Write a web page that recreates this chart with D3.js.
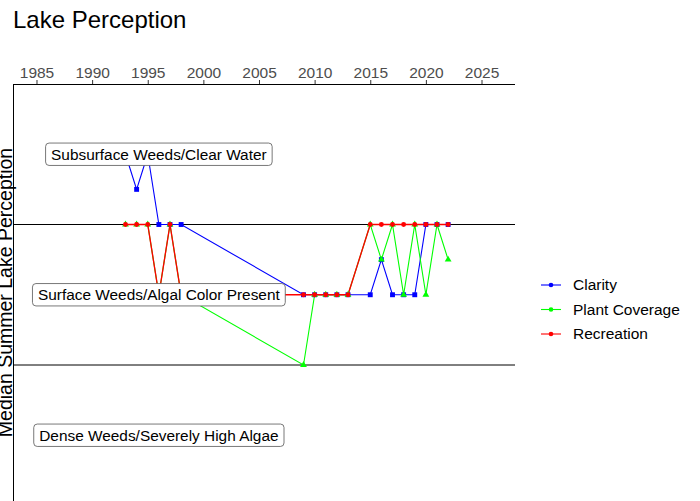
<!DOCTYPE html>
<html>
<head>
<meta charset="utf-8">
<script src="https://cdn.jsdelivr.net/npm/d3@7"></script>
<style>
  html, body { margin: 0; padding: 0; background: #fff; }
  svg { display: block; font-family: "Liberation Sans", Arial, sans-serif; }
</style>
</head>
<body>
<svg id="chart" width="700" height="501"></svg>
<script>
// Survey years (shared by every series)
const years = [1993, 1994, 1995, 1996, 1997, 1998,
               2009, 2010, 2011, 2012, 2013,
               2015, 2016, 2017, 2018, 2019, 2020, 2021, 2022];

// Median summer perception ratings (1 = best, 5 = worst)
const clarity       = [1, 1.5, 1, 2, 2, 2, 3, 3, 3, 3, 3, 3, 2.5, 3, 3, 3, 2, 2, 2];
const plantCoverage = [2, 2, 2, 3, 2, 3, 4, 3, 3, 3, 3, 2, 2.5, 2, 3, 2, 3, 2, 2.5];
const recreation    = [2, 2, 2, 3, 2, 3, 3, 3, 3, 3, 3, 2, 2, 2, 2, 2, 2, 2, 2];

const seriesNames = ["Clarity", "Plant Coverage", "Recreation"];
const seriesColors = ["#0000ff", "#00ff00", "#ff0000"];

// Descriptive levels of the rating scale
const levelLabels = ["Subsurface Weeds/Clear Water",
                     "Surface Weeds/Algal Color Present",
                     "Dense Weeds/Severely High Algae"];
const levelValues = [1, 3, 5];
const levelLabelYear = 1996;
const referenceLines = [2, 4];

const xTicks = [1985, 1990, 1995, 2000, 2005, 2010, 2015, 2020, 2025];

const svg = d3.select("#chart");
const panel = { left: 13, right: 515, top: 84, bottom: 501 };

const x = d3.scaleLinear()
  .domain([1982.888, 2028.011])
  .range([panel.left, panel.right]);
const y = d3.scaleLinear()
  .domain([0, 6])
  .range([panel.top, panel.top + 6 * 70.25]);

const series = seriesNames.map((name, i) => ({
  name,
  color: seriesColors[i],
  values: [clarity, plantCoverage, recreation][i].map((v, j) => ({ year: years[j], value: v }))
}));

// Title
svg.append("text")
  .attr("x", 13).attr("y", 28)
  .attr("font-size", 24)
  .attr("fill", "#000")
  .text("Lake Perception");

// Y axis title (rotated)
svg.append("text")
  .attr("transform", `translate(11.5,${(panel.top + panel.bottom) / 2}) rotate(-90)`)
  .attr("text-anchor", "middle")
  .attr("font-size", 19.5)
  .attr("fill", "#000")
  .text("Median Summer Lake Perception");

// Reference lines between levels
svg.append("g").selectAll("line")
  .data(referenceLines)
  .join("line")
  .attr("x1", panel.left).attr("x2", panel.right)
  .attr("y1", d => y(d)).attr("y2", d => y(d))
  .attr("stroke", "#000").attr("stroke-width", 1);

// Top x axis
const xAxis = d3.axisTop(x).tickValues(xTicks).tickFormat(d3.format("d")).tickSize(4).tickPadding(2);
const gx = svg.append("g")
  .attr("transform", `translate(0,${panel.top})`)
  .call(xAxis);
gx.select(".domain").remove();
gx.selectAll(".tick line").attr("stroke", "#333");
gx.selectAll(".tick text")
  .attr("font-size", 15.5)
  .attr("fill", "#4d4d4d")
  .attr("font-family", "Liberation Sans, Arial, sans-serif");
svg.append("line")
  .attr("x1", panel.left).attr("x2", panel.right)
  .attr("y1", panel.top + 0.5).attr("y2", panel.top + 0.5)
  .attr("stroke", "#000").attr("stroke-width", 1);
// Left axis line
svg.append("line")
  .attr("x1", panel.left + 0.5).attr("x2", panel.left + 0.5)
  .attr("y1", panel.top).attr("y2", panel.bottom)
  .attr("stroke", "#000").attr("stroke-width", 1);

// Lines (later series drawn on top; slightly wider so overlaps stay clean)
const lineWidths = [1.1, 1.1, 1.35];
const line = d3.line().x(d => x(d.year)).y(d => y(d.value));
svg.append("g").selectAll("path")
  .data(series)
  .join("path")
  .attr("d", d => line(d.values))
  .attr("fill", "none")
  .attr("stroke", d => d.color)
  .attr("stroke-width", (d, i) => lineWidths[i]);

// Points
const shapes = [d3.symbolSquare, d3.symbolTriangle, d3.symbolCircle];
const sizes = [24, 20, 19];
series.forEach((s, i) => {
  svg.append("g").selectAll("path")
    .data(s.values)
    .join("path")
    .attr("transform", d => `translate(${x(d.year)},${y(d.value)})`)
    .attr("d", d3.symbol().type(shapes[i]).size(sizes[i]))
    .attr("fill", s.color);
});

// Level labels with rounded boxes
const labelG = svg.append("g");
levelLabels.forEach((txt, i) => {
  const g = labelG.append("g");
  const rect = g.append("rect");
  const t = g.append("text")
    .attr("x", x(levelLabelYear))
    .attr("y", y(levelValues[i]))
    .attr("text-anchor", "middle")
    .attr("dy", "0.35em")
    .attr("font-size", 15.4)
    .attr("fill", "#000")
    .text(txt);
  const w = t.node().getComputedTextLength();
  rect.attr("x", x(levelLabelYear) - w / 2 - 5.5)
    .attr("y", y(levelValues[i]) - 11.2)
    .attr("width", w + 11)
    .attr("height", 22.4)
    .attr("rx", 3.5).attr("ry", 3.5)
    .attr("fill", "#fff")
    .attr("stroke", "#555")
    .attr("stroke-width", 0.8);
});

// Legend
const legend = svg.append("g");
const legendRows = [285, 309.5, 334];
series.forEach((s, i) => {
  const g = legend.append("g").attr("transform", `translate(0,${legendRows[i]})`);
  g.append("line").attr("x1", 541).attr("x2", 561).attr("y1", 0).attr("y2", 0)
    .attr("stroke", s.color).attr("stroke-width", 1.1);
  g.append("circle").attr("cx", 551).attr("cy", 0).attr("r", 2.3).attr("fill", s.color);
  g.append("text").attr("x", 573).attr("y", 0).attr("dy", "0.35em")
    .attr("font-size", 15.5).attr("fill", "#000").text(s.name);
});
</script>
</body>
</html>
